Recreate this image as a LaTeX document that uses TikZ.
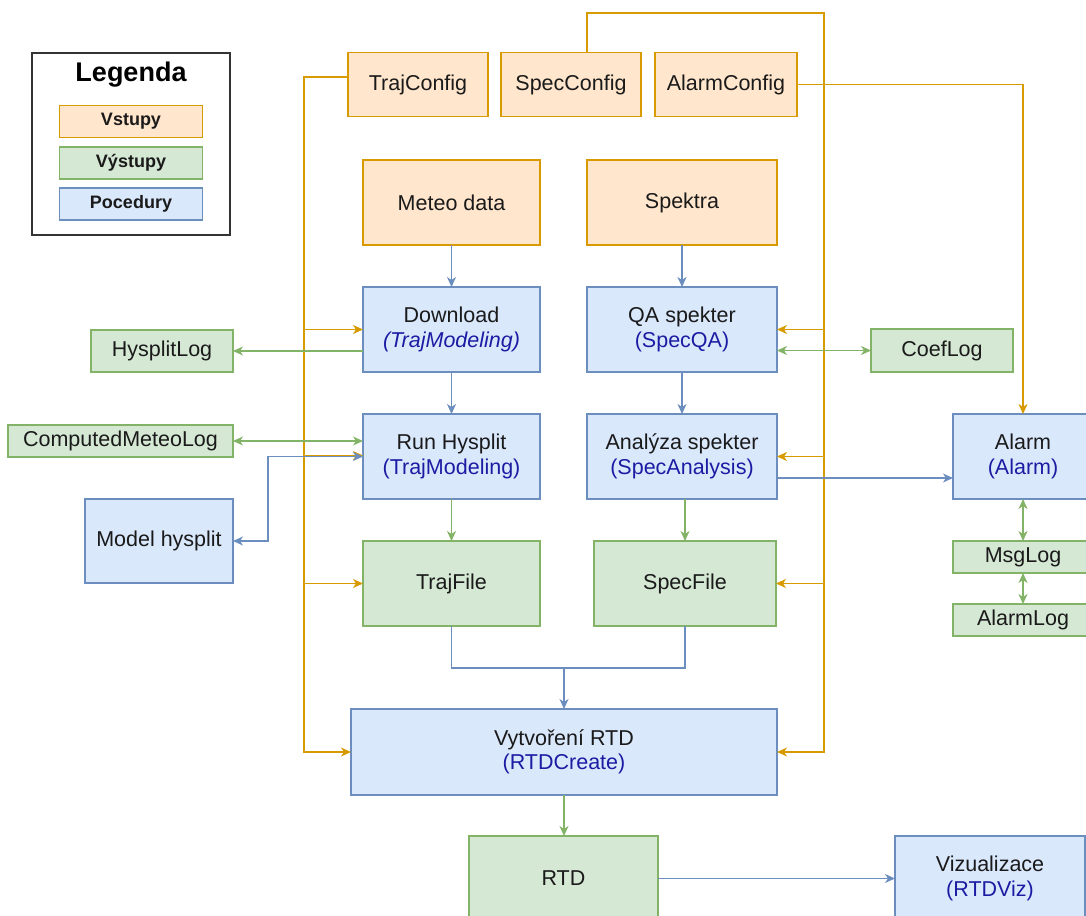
\documentclass[tikz,border=0pt]{standalone}
\usepackage{fontspec}
\setmainfont{Liberation Sans}
\usetikzlibrary{arrows.meta}

\definecolor{inFill}{HTML}{FFE6CC}
\definecolor{inLine}{HTML}{D79B00}
\definecolor{outFill}{HTML}{D5E8D4}
\definecolor{outLine}{HTML}{82B366}
\definecolor{procFill}{HTML}{DAE8FC}
\definecolor{procLine}{HTML}{6C8EBF}
\definecolor{procName}{HTML}{1C1CA3}
\definecolor{txtDark}{HTML}{1A1A1A}
\definecolor{legendLine}{HTML}{333333}

\tikzset{
  base/.style={draw, line width=1.3pt, inner sep=0pt, outer sep=0pt, align=center,
    text=txtDark, font=\fontsize{21.5}{24.5}\selectfont},
  inbox/.style={base, fill=inFill, draw=inLine},
  outbox/.style={base, fill=outFill, draw=outLine},
  procbox/.style={base, fill=procFill, draw=procLine},
  sz/.style 2 args={minimum width=#1pt, minimum height=#2pt},
  legitem/.style={font=\bfseries\fontsize{18}{20}\selectfont, sz={143}{32}},
  conn/.style={line width=1.3pt},
  inl/.style={conn, draw=inLine},
  outl/.style={conn, draw=outLine},
  procl/.style={conn, draw=procLine},
  tip/.style={-{Stealth[length=10pt,width=9pt,inset=3pt]}},
  tips/.style={{Stealth[length=10pt,width=9pt,inset=3pt]}-{Stealth[length=10pt,width=9pt,inset=3pt]}},
}

\newcommand{\pname}[1]{\textcolor{procName}{#1}}

\begin{document}
\begin{tikzpicture}[x=1pt, y=-1pt]
\useasboundingbox (0,0) rectangle (1086,915);

% legend
\node[draw=legendLine, line width=1.4pt, sz={198}{182}, inner sep=0pt] (legend) at (131,144) {};
\node[font=\bfseries\fontsize{27}{30}\selectfont, text=black] (legtitle) at (131,75) {Legenda};
\node[inbox, legitem] (legin) at (131,121.5) {Vstupy};
\node[outbox, legitem] (legout) at (131,163) {Výstupy};
\node[procbox, legitem] (legproc) at (131,204) {Pocedury};

% configuration inputs
\node[inbox, sz={140}{64}] (trajconfig) at (418,84.5) {TrajConfig};
\node[inbox, sz={140}{64}] (specconfig) at (571,84.5) {SpecConfig};
\node[inbox, sz={142}{64}] (alarmconfig) at (726,84.5) {AlarmConfig};

% data inputs
\node[inbox, sz={177}{85}] (meteo) at (451.5,202.5) {Meteo data};
\node[inbox, sz={190}{85}] (spektra) at (682,202.5) {Spektra};

% procedures
\node[procbox, sz={177}{85}] (download) at (451.5,329.5) {Download\\\pname{\itshape (TrajModeling)}};
\node[procbox, sz={190}{85}] (qa) at (682,329.5) {QA spekter\\\pname{(SpecQA)}};
\node[procbox, sz={177}{85}] (runhysplit) at (451.5,456.5) {Run Hysplit\\\pname{(TrajModeling)}};
\node[procbox, sz={190}{85}] (analyza) at (682,456.5) {Analýza spekter\\\pname{(SpecAnalysis)}};
\node[procbox, sz={148}{84}] (model) at (159,541) {Model hysplit};
\node[procbox, sz={140}{85}] (alarm) at (1023,456.5) {Alarm\\\pname{(Alarm)}};
\node[procbox, sz={426}{86}] (vytvoreni) at (564,752) {Vytvoření RTD\\\pname{(RTDCreate)}};
\node[procbox, sz={190}{85}] (viz) at (990,878.5) {Vizualizace\\\pname{(RTDViz)}};

% outputs
\node[outbox, sz={177}{85}] (trajfile) at (451.5,583.5) {TrajFile};
\node[outbox, sz={182}{85}] (specfile) at (685,583.5) {SpecFile};
\node[outbox, sz={189}{85}] (rtd) at (563.5,878.5) {RTD};
\node[outbox, sz={142}{42}] (hysplitlog) at (162,351) {HysplitLog};
\node[outbox, sz={225}{32}] (cml) at (120.5,441) {ComputedMeteoLog};
\node[outbox, sz={142}{43}] (coeflog) at (942,350.5) {CoefLog};
\node[outbox, sz={140}{32}] (msglog) at (1023,557) {MsgLog};
\node[outbox, sz={140}{32}] (alarmlog) at (1023,620) {AlarmLog};

% trajectory configuration bus
\coordinate (tcA) at (304,77);
\draw[inl, tip] (trajconfig.west |- tcA) -- (tcA) |- (vytvoreni.west);
\draw[inl, tip] (tcA |- download.west) -- (download.west);
\draw[inl, tip] (tcA |- 0,455.5) -- (runhysplit.west |- 0,455.5);
\draw[inl, tip] (tcA |- trajfile.west) -- (trajfile.west);

% spectrum configuration bus
\coordinate (scA) at (587,13);
\coordinate (scB) at (824,13);
\draw[inl, tip] (specconfig.north -| scA) -- (scA) -- (scB) |- (vytvoreni.east);
\draw[inl, tip] (scB |- qa.east) -- (qa.east);
\draw[inl, tip] (scB |- analyza.east) -- (analyza.east);
\draw[inl, tip] (scB |- specfile.east) -- (specfile.east);

% alarm configuration
\draw[inl, tip] (alarmconfig.east) -| (alarm.north);

% logs and output files
\draw[outl, tip] (download.west |- hysplitlog.east) -- (hysplitlog.east);
\draw[outl, tips] (cml.east) -- (runhysplit.west |- cml.east);
\draw[outl, tips] (qa.east |- coeflog.west) -- (coeflog.west);
\draw[outl, tips] (alarm.south) -- (msglog.north);
\draw[outl, tips] (msglog.south) -- (alarmlog.north);
\draw[outl, tip] (runhysplit.south) -- (trajfile.north);
\draw[outl, tip] (analyza.south -| specfile.north) -- (specfile.north);
\draw[outl, tip] (vytvoreni.south) -- (vytvoreni.south |- rtd.north);

% procedure flow
\draw[procl, tip] (meteo.south) -- (download.north);
\draw[procl, tip] (spektra.south) -- (qa.north);
\draw[procl, tip] (download.south) -- (runhysplit.north);
\draw[procl, tip] (qa.south) -- (analyza.north);
\coordinate (mhx) at (268,500);
\draw[procl, tips] (model.east) -| (mhx) |- (runhysplit.west);
\coordinate (mj) at (564,668);
\draw[procl] (trajfile.south) |- (mj) -| (specfile.south);
\draw[procl, tip] (mj) -- (vytvoreni.north);
\draw[procl, tip] (analyza.east |- 0,478) -- (alarm.west |- 0,478);
\draw[procl, tip] (rtd.east) -- (viz.west);
\end{tikzpicture}
\end{document}
